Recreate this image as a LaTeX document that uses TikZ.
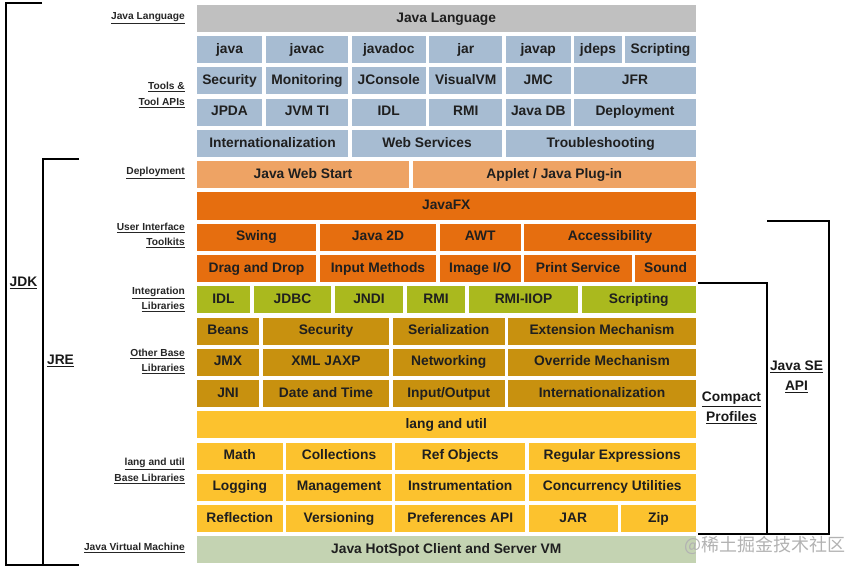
\documentclass[tikz,border=0pt]{standalone}
\usepackage{fontspec}
\setmainfont{Liberation Sans}
\newfontfamily\cjk{Noto Sans CJK SC}
\usepackage{tikz}
\definecolor{langgray}{RGB}{192,192,192}
\definecolor{toolblue}{RGB}{167,188,210}
\definecolor{deploy}{RGB}{238,163,100}
\definecolor{uiorange}{RGB}{230,110,15}
\definecolor{integgreen}{RGB}{170,185,30}
\definecolor{basegold}{RGB}{200,145,15}
\definecolor{langyellow}{RGB}{252,194,46}
\definecolor{vmgreen}{RGB}{196,211,178}
\tikzset{
  cell/.style={inner sep=0pt, minimum height=27pt, text height=10pt, text depth=2.9pt, text=black!88, font=\fontsize{13.8}{15}\selectfont\bfseries},
  tag/.style={anchor=east, align=right, inner sep=0pt, text=black!85, font=\fontsize{10.2}{15.5}\selectfont\bfseries},
  group/.style={align=center, inner sep=0pt, text=black!90, font=\fontsize{13.8}{20}\selectfont\bfseries},
  bracket/.style={line width=2pt, black},
}
\begin{document}
\begin{tikzpicture}[x=1pt,y=-1pt]
\useasboundingbox (0,0) rectangle (864,572);
\foreach \r/\a/\b/\n/\t/\c in {
 0/195/697.5/javalang/{Java Language}/langgray,
 1/195/264/java/{java}/toolblue, 1/264/350/javac/{javac}/toolblue, 1/350/427.5/javadoc/{javadoc}/toolblue,
 1/427.5/504/jar/{jar}/toolblue, 1/504/572.5/javap/{javap}/toolblue, 1/572.5/623.5/jdeps/{jdeps}/toolblue,
 1/623.5/697.5/toolscript/{Scripting}/toolblue,
 2/195/264/toolsec/{Security}/toolblue, 2/264/350/monitor/{Monitoring}/toolblue, 2/350/427.5/jconsole/{JConsole}/toolblue,
 2/427.5/504/visualvm/{VisualVM}/toolblue, 2/504/572.5/jmc/{JMC}/toolblue, 2/572.5/697.5/jfr/{JFR}/toolblue,
 3/195/264/jpda/{JPDA}/toolblue, 3/264/350/jvmti/{JVM TI}/toolblue, 3/350/427.5/toolidl/{IDL}/toolblue,
 3/427.5/504/toolrmi/{RMI}/toolblue, 3/504/572.5/javadb/{Java DB}/toolblue, 3/572.5/697.5/tooldeploy/{Deployment}/toolblue,
 4/195/350/toolintl/{Internationalization}/toolblue, 4/350/504/websvc/{Web Services}/toolblue, 4/504/697.5/trouble/{Troubleshooting}/toolblue,
 5/195/411/webstart/{Java Web Start}/deploy, 5/411/697.5/applet/{Applet / Java Plug-in}/deploy,
 6/195/697.5/javafx/{JavaFX}/uiorange,
 7/195/318/swing/{Swing}/uiorange, 7/318/438/java2d/{Java 2D}/uiorange, 7/438/522.5/awt/{AWT}/uiorange,
 7/522.5/697.5/access/{Accessibility}/uiorange,
 8/195/318/dnd/{Drag and Drop}/uiorange, 8/318/438/inputm/{Input Methods}/uiorange, 8/438/522.5/imageio/{Image I/O}/uiorange,
 8/522.5/633.5/print/{Print Service}/uiorange, 8/633.5/697.5/sound/{Sound}/uiorange,
 9/195/252/idl/{IDL}/integgreen, 9/252/333/jdbc/{JDBC}/integgreen, 9/333/405/jndi/{JNDI}/integgreen,
 9/405/467/rmi/{RMI}/integgreen, 9/467/580/rmiiiop/{RMI-IIOP}/integgreen, 9/580/697.5/script/{Scripting}/integgreen,
 10/195/261/beans/{Beans}/basegold, 10/261/391/security/{Security}/basegold, 10/391/506.5/serial/{Serialization}/basegold,
 10/506.5/697.5/extmech/{Extension Mechanism}/basegold,
 11/195/261/jmx/{JMX}/basegold, 11/261/391/jaxp/{XML JAXP}/basegold, 11/391/506.5/network/{Networking}/basegold,
 11/506.5/697.5/overmech/{Override Mechanism}/basegold,
 12/195/261/jni/{JNI}/basegold, 12/261/391/datetime/{Date and Time}/basegold, 12/391/506.5/io/{Input/Output}/basegold,
 12/506.5/697.5/intl/{Internationalization}/basegold,
 13/195/697.5/langutil/{lang and util}/langyellow,
 14/195/284.5/math/{Math}/langyellow, 14/284.5/393.5/collect/{Collections}/langyellow, 14/393.5/527/refobj/{Ref Objects}/langyellow,
 14/527/697.5/regex/{Regular Expressions}/langyellow,
 15/195/284.5/logging/{Logging}/langyellow, 15/284.5/393.5/manage/{Management}/langyellow, 15/393.5/527/instrument/{Instrumentation}/langyellow,
 15/527/697.5/concur/{Concurrency Utilities}/langyellow,
 16/195/284.5/reflect/{Reflection}/langyellow, 16/284.5/393.5/version/{Versioning}/langyellow, 16/393.5/527/prefs/{Preferences API}/langyellow,
 16/527/619.5/jarlib/{JAR}/langyellow, 16/619.5/697.5/zip/{Zip}/langyellow,
 17/195/697.5/hotspot/{Java HotSpot Client and Server VM}/vmgreen}
  \node[cell, fill=\c, minimum width={(\b-\a-3.5)*1pt}] (\n) at ({(\a+\b)/2},{18.5+31.25*\r}) {\t};

\node[tag] (tlang) at (185,18) {\underline{Java Language}};
\node[tag] (ttools) at (185,95) {\underline{Tools \&}\\\underline{Tool APIs}};
\node[tag] (tdeploy) at (185,173) {\underline{Deployment}};
\node[tag] (tui) at (185,235.5) {\underline{User Interface}\\\underline{Toolkits}};
\node[tag] (tinteg) at (185,299.5) {\underline{Integration}\\\underline{Libraries}};
\node[tag] (tother) at (185,361.5) {\underline{Other Base}\\\underline{Libraries}};
\node[tag] (tbase) at (185,471) {\underline{lang and util}\\\underline{Base Libraries}};
\node[tag] (tjvm) at (185,548) {\underline{Java Virtual Machine}};

\node[group] (jdk) at (23.5,283) {\underline{JDK}};
\node[group] (jre) at (60.5,361) {\underline{JRE}};
\node[group] (compact) at (731.5,408) {\underline{Compact}\\\underline{Profiles}};
\node[group] (javase) at (796.5,377) {\underline{Java SE}\\\underline{API}};

\coordinate (jdktop) at (42,3);
\coordinate (jdkcorner) at (6,3);
\coordinate (jdkfoot) at (6,565);
\coordinate (jrefoot) at (79,565);
\coordinate (jretop) at (79,159);
\coordinate (jrecorner) at (42.5,159);
\coordinate (jrebase) at (42.5,565);
\draw[bracket] (jdktop) -- (jdkcorner) -- (jdkfoot) -- (jrefoot);
\draw[bracket] (jretop) -- (jrecorner) -- (jrebase);

\coordinate (cptop) at (698,283);
\coordinate (cpcorner) at (767,283);
\coordinate (cpfoot) at (767,534);
\coordinate (sefoot) at (829,534);
\coordinate (secorner) at (829,221);
\coordinate (setop) at (767,221);
\coordinate (cpbase) at (698,534);
\draw[bracket] (cptop) -- (cpcorner) -- (cpfoot);
\draw[bracket] (setop) -- (secorner) -- (sefoot) -- (cpbase);

\node[text=black!30, font=\cjk\fontsize{18}{20}\selectfont] (mark) at (765,545) {@稀土掘金技术社区};
\end{tikzpicture}
\end{document}
